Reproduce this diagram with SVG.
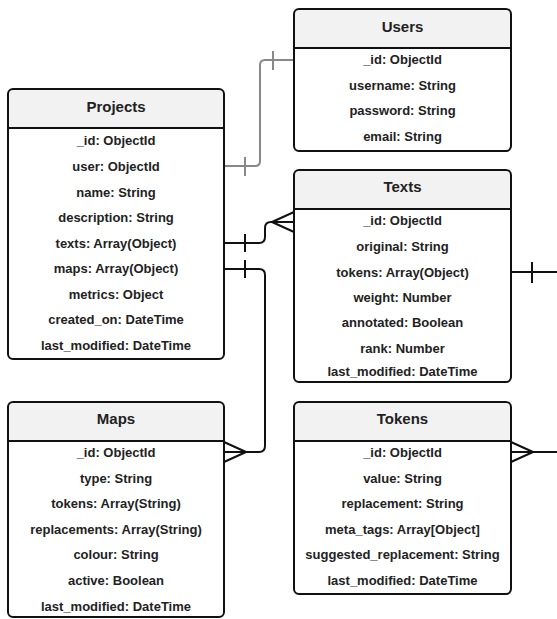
<svg xmlns="http://www.w3.org/2000/svg" width="557" height="619" viewBox="0 0 557 619">
<style>
.box{fill:none;stroke:#111;stroke-width:2}
.hdr{fill:#f2f2f2}
.sep{stroke:#111;stroke-width:2}
.t{font-family:"Liberation Sans",Arial,sans-serif;font-weight:bold;font-size:13px;fill:#222;text-anchor:middle}
.h{font-family:"Liberation Sans",Arial,sans-serif;font-weight:bold;font-size:15px;fill:#222;text-anchor:middle}
.c{fill:none;stroke:#111;stroke-width:2;stroke-linejoin:round}
.g{fill:none;stroke:#888;stroke-width:2;stroke-linejoin:round}
</style>
<rect x="0" y="0" width="557" height="619" fill="#fff"/>
<g id="connectors">
  <!-- Users - Projects -->
  <path class="g" d="M224,166 H255 Q260,166 260,161 V65 Q260,60 265,60 H294"/>
  <line class="g" x1="245" y1="157" x2="245" y2="176"/>
  <line class="g" x1="273" y1="51" x2="273" y2="70"/>
  <!-- Projects.texts - Texts -->
  <path class="c" d="M224,243 H259 Q265,243 265,237 V228 Q265,222 271,222 H294"/>
  <line class="c" x1="245" y1="234" x2="245" y2="252"/>
  <path class="c" d="M294,212 L272,222 L294,232"/>
  <!-- Projects.maps - Maps -->
  <path class="c" d="M224,269 H259 Q265,269 265,275 V446 Q265,452 259,452 H224"/>
  <line class="c" x1="245" y1="260" x2="245" y2="278"/>
  <path class="c" d="M224,442 L246,452 L224,462"/>
  <!-- Texts.tokens - Tokens (off canvas) -->
  <path class="c" d="M511,272 H560"/>
  <line class="c" x1="532" y1="262" x2="532" y2="283"/>
  <path class="c" d="M511,452 H560"/>
  <path class="c" d="M511,442 L533,452 L511,462"/>
</g>
<g id="users">
  <path class="hdr" d="M294,48 V14 Q294,9 299,9 H506 Q511,9 511,14 V48 Z"/>
  <rect class="box" x="294" y="9" width="217" height="142" rx="5"/>
  <line class="sep" x1="294" y1="48" x2="511" y2="48"/>
  <text class="h" x="402.5" y="32">Users</text>
  <text class="t" x="402.5" y="64">_id: ObjectId</text>
  <text class="t" x="402.5" y="90">username: String</text>
  <text class="t" x="402.5" y="115">password: String</text>
  <text class="t" x="402.5" y="141">email: String</text>
</g>
<g id="projects">
  <path class="hdr" d="M8,128 V94 Q8,89 13,89 H219 Q224,89 224,94 V128 Z"/>
  <rect class="box" x="8" y="89" width="216" height="270" rx="5"/>
  <line class="sep" x1="8" y1="128" x2="224" y2="128"/>
  <text class="h" x="116" y="112">Projects</text>
  <text class="t" x="116" y="145">_id: ObjectId</text>
  <text class="t" x="116" y="171">user: ObjectId</text>
  <text class="t" x="116" y="197">name: String</text>
  <text class="t" x="116" y="222">description: String</text>
  <text class="t" x="116" y="248">texts: Array(Object)</text>
  <text class="t" x="116" y="273">maps: Array(Object)</text>
  <text class="t" x="116" y="299">metrics: Object</text>
  <text class="t" x="116" y="324">created_on: DateTime</text>
  <text class="t" x="116" y="350">last_modified: DateTime</text>
</g>
<g id="texts">
  <path class="hdr" d="M294,209 V175 Q294,170 299,170 H506 Q511,170 511,175 V209 Z"/>
  <rect class="box" x="294" y="170" width="217" height="212" rx="5"/>
  <line class="sep" x1="294" y1="209" x2="511" y2="209"/>
  <text class="h" x="402.5" y="192">Texts</text>
  <text class="t" x="402.5" y="225">_id: ObjectId</text>
  <text class="t" x="402.5" y="251">original: String</text>
  <text class="t" x="402.5" y="277">tokens: Array(Object)</text>
  <text class="t" x="402.5" y="302">weight: Number</text>
  <text class="t" x="402.5" y="327">annotated: Boolean</text>
  <text class="t" x="402.5" y="353">rank: Number</text>
  <text class="t" x="402.5" y="376">last_modified: DateTime</text>
</g>
<g id="maps">
  <path class="hdr" d="M8,441 V407 Q8,402 13,402 H219 Q224,402 224,407 V441 Z"/>
  <rect class="box" x="8" y="402" width="216" height="215" rx="5"/>
  <line class="sep" x1="8" y1="441" x2="224" y2="441"/>
  <text class="h" x="116" y="424">Maps</text>
  <text class="t" x="116" y="457">_id: ObjectId</text>
  <text class="t" x="116" y="483">type: String</text>
  <text class="t" x="116" y="508">tokens: Array(String)</text>
  <text class="t" x="116" y="534">replacements: Array(String)</text>
  <text class="t" x="116" y="559">colour: String</text>
  <text class="t" x="116" y="585">active: Boolean</text>
  <text class="t" x="116" y="611">last_modified: DateTime</text>
</g>
<g id="tokens">
  <path class="hdr" d="M294,441 V407 Q294,402 299,402 H506 Q511,402 511,407 V441 Z"/>
  <rect class="box" x="294" y="402" width="217" height="192" rx="5"/>
  <line class="sep" x1="294" y1="441" x2="511" y2="441"/>
  <text class="h" x="402.5" y="424">Tokens</text>
  <text class="t" x="402.5" y="457">_id: ObjectId</text>
  <text class="t" x="402.5" y="483">value: String</text>
  <text class="t" x="402.5" y="508">replacement: String</text>
  <text class="t" x="402.5" y="534">meta_tags: Array[Object]</text>
  <text class="t" x="402.5" y="559">suggested_replacement: String</text>
  <text class="t" x="402.5" y="585">last_modified: DateTime</text>
</g>
</svg>
